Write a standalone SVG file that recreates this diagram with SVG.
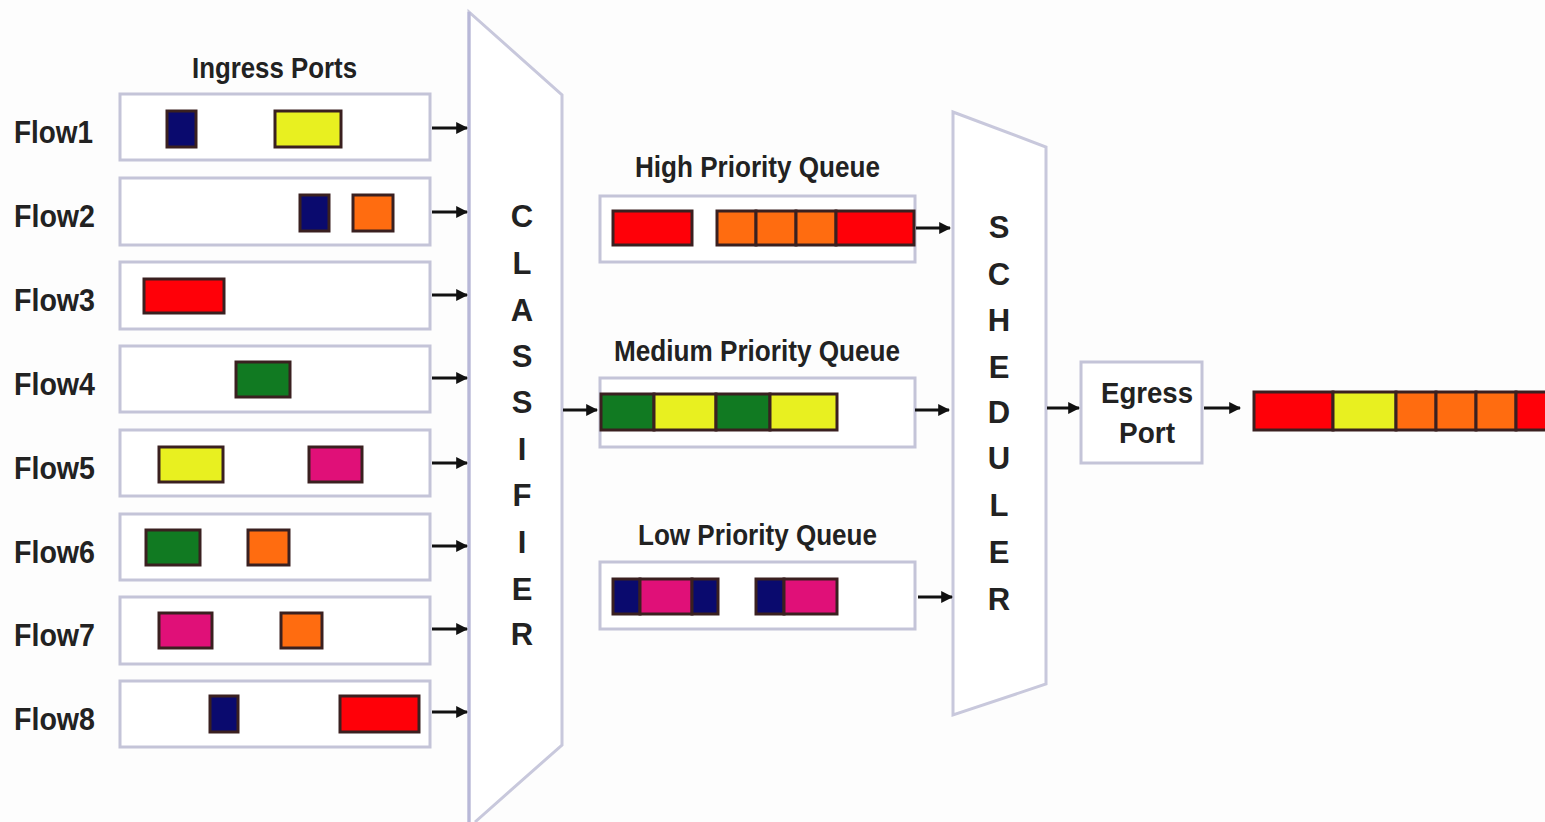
<svg xmlns="http://www.w3.org/2000/svg" width="1545" height="822" viewBox="0 0 1545 822">
<style>
.box{fill:#ffffff;stroke:#c4c4d8;stroke-width:3}
.pk{stroke:#3a2020;stroke-width:3}
.lbl{font-family:"Liberation Sans",Arial,sans-serif;font-weight:bold;fill:#222;}
.flow{font-size:32px}
.title{font-size:29px}
.vert{font-size:31px;text-anchor:middle}
.edge{fill:none;stroke:#111;stroke-width:3;marker-end:url(#ah)}
.nv{fill:#0a0a6e}.yl{fill:#e8f020}.or{fill:#ff6c10}.rd{fill:#ff0008}.gn{fill:#117a22}.mg{fill:#e01078}
</style>
<defs>
<marker id="ah" viewBox="0 0 10 10" refX="9" refY="5" markerWidth="4" markerHeight="4" orient="auto" markerUnits="strokeWidth">
<path d="M0,0 L10,5 L0,10 z" fill="#111"/>
</marker>
</defs>
<rect width="1545" height="822" fill="#fdfdfd"/>

<g id="ingress-title"><text class="lbl title" x="192" y="78" textLength="165" lengthAdjust="spacingAndGlyphs">Ingress Ports</text></g>

<g id="flow1"><text class="lbl flow" x="14" y="143" textLength="79" lengthAdjust="spacingAndGlyphs">Flow1</text>
<rect class="box" x="120" y="94" width="310" height="66"/>
<rect class="pk nv" x="167" y="111" width="29" height="36"/><rect class="pk yl" x="275" y="111" width="66" height="36"/></g>
<g id="flow2"><text class="lbl flow" x="14" y="227" textLength="81" lengthAdjust="spacingAndGlyphs">Flow2</text>
<rect class="box" x="120" y="178" width="310" height="67"/>
<rect class="pk nv" x="300" y="195" width="29" height="36"/><rect class="pk or" x="353" y="195" width="40" height="36"/></g>
<g id="flow3"><text class="lbl flow" x="14" y="311" textLength="81" lengthAdjust="spacingAndGlyphs">Flow3</text>
<rect class="box" x="120" y="262" width="310" height="67"/>
<rect class="pk rd" x="144" y="279" width="80" height="34"/></g>
<g id="flow4"><text class="lbl flow" x="14" y="395" textLength="81" lengthAdjust="spacingAndGlyphs">Flow4</text>
<rect class="box" x="120" y="346" width="310" height="66"/>
<rect class="pk gn" x="236" y="362" width="54" height="35"/></g>
<g id="flow5"><text class="lbl flow" x="14" y="479" textLength="81" lengthAdjust="spacingAndGlyphs">Flow5</text>
<rect class="box" x="120" y="430" width="310" height="66"/>
<rect class="pk yl" x="159" y="447" width="64" height="35"/><rect class="pk mg" x="309" y="447" width="53" height="35"/></g>
<g id="flow6"><text class="lbl flow" x="14" y="563" textLength="81" lengthAdjust="spacingAndGlyphs">Flow6</text>
<rect class="box" x="120" y="514" width="310" height="66"/>
<rect class="pk gn" x="146" y="530" width="54" height="35"/><rect class="pk or" x="248" y="530" width="41" height="35"/></g>
<g id="flow7"><text class="lbl flow" x="14" y="646" textLength="81" lengthAdjust="spacingAndGlyphs">Flow7</text>
<rect class="box" x="120" y="597" width="310" height="67"/>
<rect class="pk mg" x="159" y="613" width="53" height="35"/><rect class="pk or" x="281" y="613" width="41" height="35"/></g>
<g id="flow8"><text class="lbl flow" x="14" y="730" textLength="81" lengthAdjust="spacingAndGlyphs">Flow8</text>
<rect class="box" x="120" y="681" width="310" height="66"/>
<rect class="pk nv" x="210" y="696" width="28" height="36"/><rect class="pk rd" x="340" y="696" width="79" height="36"/></g>

<g id="classifier">
<path d="M469,822 L469,12 L562,95 L562,745 L475,822" fill="#ffffff" stroke="#c8c8dc" stroke-width="3"/>
<line x1="469" y1="12" x2="469" y2="822" stroke="#b8b8d8" stroke-width="3"/>
<g class="lbl vert">
<text x="522" y="227">C</text><text x="522" y="274">L</text><text x="522" y="321">A</text><text x="522" y="367">S</text><text x="522" y="413">S</text><text x="522" y="460">I</text><text x="522" y="506">F</text><text x="522" y="553">I</text><text x="522" y="600">E</text><text x="522" y="645">R</text>
</g></g>

<g id="high-queue"><text class="lbl title" x="635" y="177" textLength="245" lengthAdjust="spacingAndGlyphs">High Priority Queue</text>
<rect class="box" x="600" y="196" width="315" height="66"/>
<rect class="pk rd" x="613" y="211" width="79" height="34"/>
<rect class="pk or" x="717" y="211" width="39" height="34"/><rect class="pk or" x="756" y="211" width="40" height="34"/><rect class="pk or" x="796" y="211" width="40" height="34"/><rect class="pk rd" x="836" y="211" width="78" height="34"/></g>

<g id="medium-queue"><text class="lbl title" x="614" y="361" textLength="286" lengthAdjust="spacingAndGlyphs">Medium Priority Queue</text>
<rect class="box" x="600" y="378" width="315" height="69"/>
<rect class="pk gn" x="601" y="394" width="53" height="36"/><rect class="pk yl" x="654" y="394" width="62" height="36"/><rect class="pk gn" x="716" y="394" width="54" height="36"/><rect class="pk yl" x="770" y="394" width="67" height="36"/></g>

<g id="low-queue"><text class="lbl title" x="638" y="545" textLength="239" lengthAdjust="spacingAndGlyphs">Low Priority Queue</text>
<rect class="box" x="600" y="562" width="315" height="67"/>
<rect class="pk nv" x="613" y="579" width="27" height="35"/><rect class="pk mg" x="640" y="579" width="52" height="35"/><rect class="pk nv" x="692" y="579" width="26" height="35"/>
<rect class="pk nv" x="756" y="579" width="28" height="35"/><rect class="pk mg" x="784" y="579" width="53" height="35"/></g>

<g id="scheduler">
<path d="M953,715 L953,112 L1046,147 L1046,684 Z" fill="#ffffff" stroke="#c8c8dc" stroke-width="3"/>
<g class="lbl vert">
<text x="999" y="238">S</text><text x="999" y="285">C</text><text x="999" y="331">H</text><text x="999" y="378">E</text><text x="999" y="423">D</text><text x="999" y="469">U</text><text x="999" y="516">L</text><text x="999" y="563">E</text><text x="999" y="610">R</text>
</g></g>

<g id="egress-port">
<rect class="box" x="1081" y="362" width="121" height="101"/>
<text class="lbl title" x="1147" y="403" text-anchor="middle" textLength="92" lengthAdjust="spacingAndGlyphs">Egress</text>
<text class="lbl title" x="1147" y="443" text-anchor="middle" textLength="56" lengthAdjust="spacingAndGlyphs">Port</text>
</g>

<g id="output-stream">
<rect class="pk rd" x="1254" y="392" width="79" height="38"/><rect class="pk yl" x="1333" y="392" width="63" height="38"/><rect class="pk or" x="1396" y="392" width="40" height="38"/><rect class="pk or" x="1436" y="392" width="40" height="38"/><rect class="pk or" x="1476" y="392" width="40" height="38"/><rect class="pk rd" x="1516" y="392" width="40" height="38"/>
</g>

<g id="connectors">
<line class="edge" x1="432" y1="128" x2="467" y2="128"/>
<line class="edge" x1="432" y1="212" x2="467" y2="212"/>
<line class="edge" x1="432" y1="295" x2="467" y2="295"/>
<line class="edge" x1="432" y1="378" x2="467" y2="378"/>
<line class="edge" x1="432" y1="463" x2="467" y2="463"/>
<line class="edge" x1="432" y1="546" x2="467" y2="546"/>
<line class="edge" x1="432" y1="629" x2="467" y2="629"/>
<line class="edge" x1="432" y1="712" x2="467" y2="712"/>
<line class="edge" x1="563" y1="410" x2="597" y2="410"/>
<line class="edge" x1="916" y1="228" x2="950" y2="228"/>
<line class="edge" x1="915" y1="410" x2="949" y2="410"/>
<line class="edge" x1="918" y1="597" x2="952" y2="597"/>
<line class="edge" x1="1047" y1="408" x2="1079" y2="408"/>
<line class="edge" x1="1204" y1="408" x2="1240" y2="408"/>
</g>
</svg>
